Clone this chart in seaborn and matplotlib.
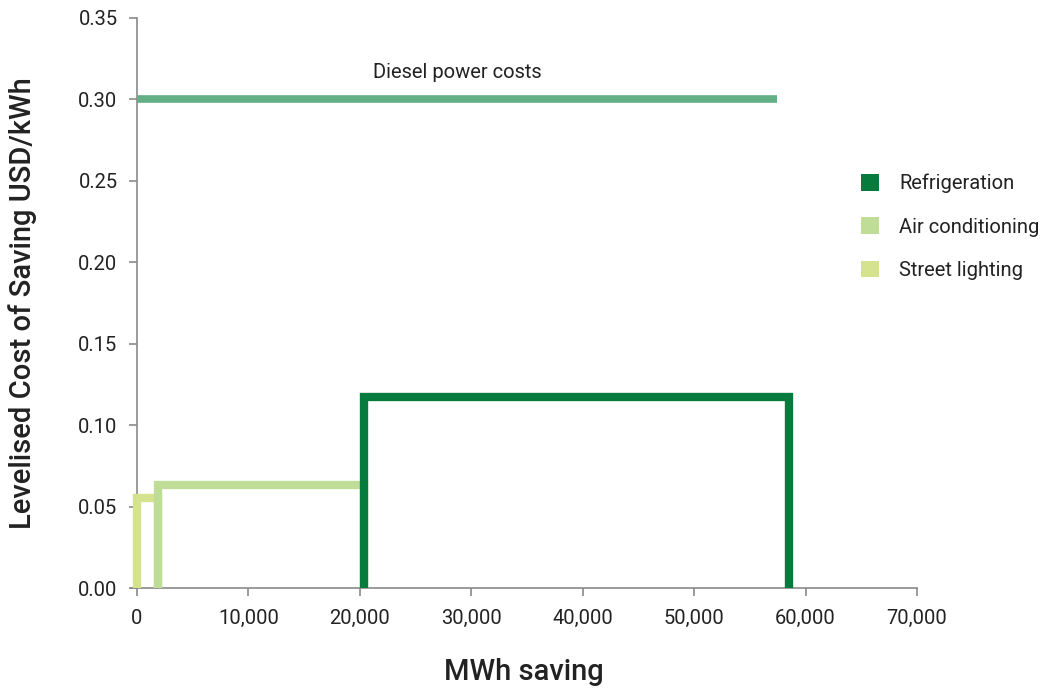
import pandas as pd
import matplotlib.pyplot as plt
import seaborn as sns
from matplotlib.patches import Patch

# measures, in the order they are stacked along the x axis
measures = ['Street lighting', 'Air conditioning', 'Refrigeration']
savings_mwh = [1900, 18500, 38100]
cost_usd_kwh = [0.055, 0.0635, 0.1175]
colors = ['#d5e38e', '#bfdd96', '#077a3e']

diesel_cost = 0.30
diesel_extent = [0, 57400]

sns.set_theme(style='white')
plt.rcParams['font.family'] = ['Roboto', 'DejaVu Sans']

fig = plt.figure(figsize=(10.44, 6.91), dpi=100)
ax = fig.add_axes([0.1259, 0.149, 0.7525, 0.825])

# build outline (left, top, right edges) of each bar
rows = []
start = 0
for name, width, cost in zip(measures, savings_mwh, cost_usd_kwh):
    end = start + width
    for i, (x, y) in enumerate([(start, 0), (start, cost), (end, cost), (end, 0)]):
        rows.append({'measure': name, 'order': i, 'x': x, 'y': y})
    start = end
df = pd.DataFrame(rows)

for name, col in zip(measures, colors):
    sub = df[df['measure'] == name]
    sns.lineplot(data=sub, x='x', y='y', sort=False, estimator=None, color=col,
                 linewidth=6, ax=ax, solid_joinstyle='miter', solid_capstyle='butt',
                 clip_on=False, zorder=3)

diesel = pd.DataFrame({'x': diesel_extent, 'y': [diesel_cost, diesel_cost]})
sns.lineplot(data=diesel, x='x', y='y', color='#62ae85', linewidth=5.5, ax=ax,
             solid_capstyle='butt', clip_on=False, zorder=3)
ax.text(28700, diesel_cost + 0.0166, 'Diesel power costs',
        ha='center', va='center', fontsize=14.5, color='#222222')

ax.set_xlim(-500, 70000)
ax.set_ylim(0, 0.35)
ax.set_xticks(range(0, 70001, 10000))
ax.set_xticklabels([f'{v:,}' for v in range(0, 70001, 10000)])
ax.set_yticks([i * 0.05 for i in range(8)])
ax.set_yticklabels([f'{i * 0.05:.2f}' for i in range(8)])

for s in ['top', 'right']:
    ax.spines[s].set_visible(False)
ax.spines['left'].set_position(('data', 0))
for s in ['left', 'bottom']:
    ax.spines[s].set_color('#8a8a8a')
    ax.spines[s].set_linewidth(1.2)
ax.tick_params(axis='both', which='major', length=6, width=1.2, color='#8a8a8a',
               labelsize=14.5, labelcolor='#222222', direction='out', pad=8)
ax.tick_params(axis='x', pad=9)
ax.tick_params(axis='y', left=True)
ax.tick_params(axis='x', bottom=True)

ax.set_xlabel('MWh saving', fontsize=21, fontweight='medium', color='#222222', labelpad=22)
ax.set_ylabel('Levelised Cost of Saving USD/kWh', fontsize=21, fontweight='medium',
              color='#222222', labelpad=30)

handles = [Patch(facecolor=c, edgecolor='none', label=m)
           for m, c in zip(reversed(measures), reversed(colors))]
fig.legend(handles=handles, loc='upper left', bbox_to_anchor=(0.807, 0.775),
           frameon=False, fontsize=14.5, labelcolor='#222222', handlelength=0.9,
           handleheight=0.9, handletextpad=1.0, labelspacing=1.2)

fig.savefig('out.png', dpi=100)
